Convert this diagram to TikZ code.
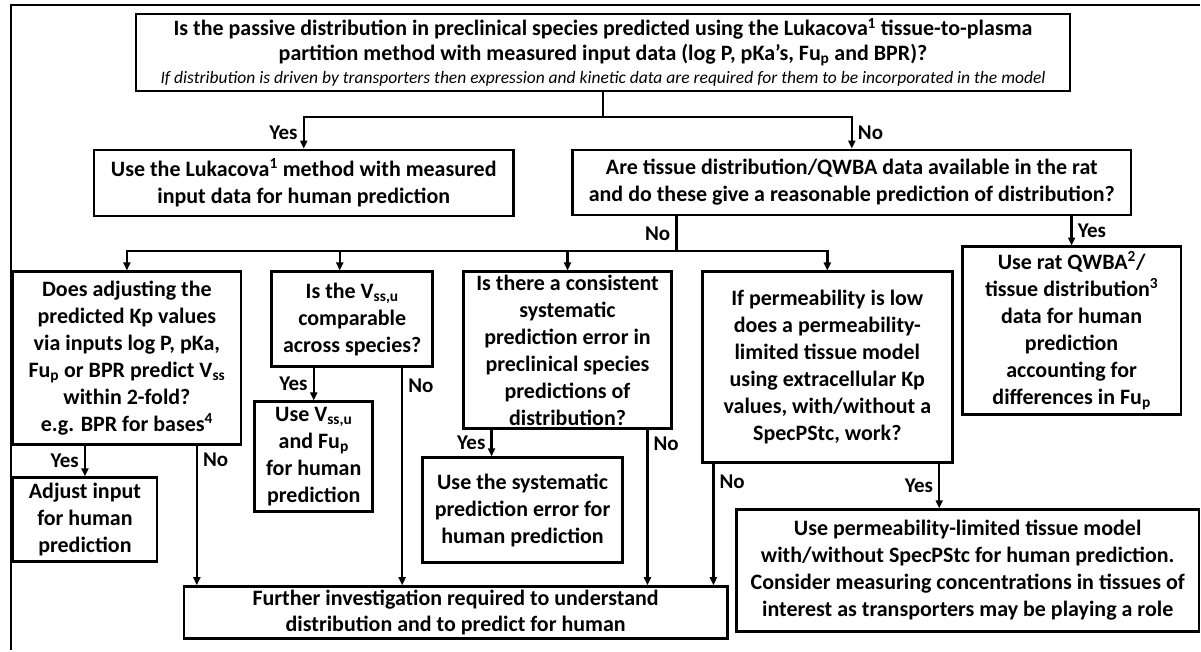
\documentclass[tikz,border=0pt]{standalone}
\usepackage{fontspec}
\setmainfont{Carlito}
\usetikzlibrary{arrows.meta}

\begin{document}
\begin{tikzpicture}[
    x=1pt, y=-1pt,
    caixa/.style={rectangle, draw, line width=2.6pt, align=center, inner sep=0pt,
                  font=\fontsize{22}{27}\selectfont\bfseries},
    seta/.style={-{Triangle[length=8pt, width=7pt]}, line width=2.4pt},
    linha/.style={line width=2.4pt},
    resp/.style={font=\fontsize{21}{25}\selectfont\bfseries, inner sep=5pt}
]

\fill[white] (0,0) rectangle (1201,651);
\draw[line width=2pt] (11,651) -- (11,5) -- (1201,5);

% Perguntas
\node[caixa, minimum width=935, minimum height=77] (q1) at (603.5,52.5)
  {Is the passive distribution in preclinical species predicted using the Lukacova\textsuperscript{1} tissue-to-plasma\\[-2pt]
   partition method with measured input data (log P, pKa’s, Fu\textsubscript{p} and BPR)?\\[-4pt]
   {\fontsize{17.5}{19}\selectfont\mdseries\itshape If distribution is driven by transporters then expression and kinetic data are required for them to be incorporated in the model}};
\node[caixa, minimum width=559, minimum height=65] (q2) at (852.5,182.5)
  {Are tissue distribution/QWBA data available in the rat\\ and do these give a reasonable prediction of distribution?};
\node[caixa, minimum width=228, minimum height=173] (q3) at (127,358.5)
  {Does adjusting the\\ predicted Kp values\\ via inputs log P, pKa,\\ Fu\textsubscript{p} or BPR predict V\textsubscript{ss}\\ within 2-fold?\\ e.g. BPR for bases\textsuperscript{4}};
\node[caixa, minimum width=161, minimum height=95] (q4) at (352.5,319.5)
  {Is the V\textsubscript{ss,u}\\ comparable\\ across species?};
\node[caixa, minimum width=208, minimum height=157] (q5) at (568,350.5)
  {Is there a consistent\\ systematic\\ prediction error in\\ preclinical species\\ predictions of\\ distribution?};
\node[caixa, minimum width=250, minimum height=191] (q6) at (828,367.5)
  {If permeability is low\\ does a permeability-\\ limited tissue model\\ using extracellular Kp\\ values, with/without a\\ SpecPStc, work?};

% Resultados
\node[caixa, minimum width=420, minimum height=66] (uselk) at (304,183)
  {Use the Lukacova\textsuperscript{1} method with measured\\ input data for human prediction};
\node[caixa, minimum width=219, minimum height=168] (usarat) at (1072.5,331)
  {Use rat QWBA\textsuperscript{2}/\\ tissue distribution\textsuperscript{3}\\ data for human\\ prediction\\ accounting for\\ differences in Fu\textsubscript{p}};
\node[caixa, minimum width=144, minimum height=84] (ajuste) at (85,520)
  {Adjust input\\ for human\\ prediction};
\node[caixa, minimum width=118, minimum height=110] (usevss) at (314,457)
  {Use V\textsubscript{ss,u}\\ and Fu\textsubscript{p}\\ for human\\ prediction};
\node[caixa, minimum width=200, minimum height=105] (sistem) at (523,510.5)
  {Use the systematic\\ prediction error for\\ human prediction};
\node[caixa, minimum width=463, minimum height=122] (perm) at (968.5,571)
  {Use permeability-limited tissue model\\ with/without SpecPStc for human prediction.\\ Consider measuring concentrations in tissues of\\ interest as transporters may be playing a role};
\node[caixa, minimum width=544, minimum height=52] (invest) at (456,613)
  {Further investigation required to understand\\ distribution and to predict for human};

% Setas principais
\draw[seta] (q1.south) -- ++(0,25) -| node[pos=0.75, resp, left] {Yes} (uselk.north);
\draw[seta] (q1.south) -- ++(0,25) -| node[pos=0.75, resp, right] {No} (q2.north);
\draw[seta] (q2.south -| usarat.north) -- node[resp, right] {Yes} (usarat.north);

\coordinate (ramo) at (677,251);
\draw[linha] (q2.south -| ramo) -- node[resp, left] {No} (ramo);
\draw[seta] (ramo) -| (q3.north);
\draw[seta] (ramo) -| ([xshift=-12.5]q4.north);
\draw[seta] (ramo) -| (q5.north);
\draw[seta] (ramo) -| (q6.north);

% Yes / No das perguntas de baixo
\draw[seta] (q3.south -| ajuste.north) -- node[resp, left] {Yes} (ajuste.north);
\draw[seta] ([xshift=70]q3.south) -- node[resp, right, pos=0.1] {No} ([xshift=70]q3.south |- invest.north);
\draw[seta] (q4.south -| usevss.north) -- node[resp, left] {Yes} (usevss.north);
\draw[seta] ([xshift=50]q4.south) -- node[resp, right, pos=0.08] {No} ([xshift=50]q4.south |- invest.north);
\draw[seta] ([xshift=-76]q5.south) -- node[resp, left] {Yes} ([xshift=-76]q5.south |- sistem.north);
\draw[seta] ([xshift=80]q5.south) -- node[resp, right, pos=0.09] {No} ([xshift=80]q5.south |- invest.north);
\draw[seta] ([xshift=-114]q6.south) -- node[resp, right, pos=0.15] {No} ([xshift=-114]q6.south |- invest.north);
\draw[seta] ([xshift=112]q6.south) -- node[resp, left] {Yes} ([xshift=112]q6.south |- perm.north);

\end{tikzpicture}
\end{document}
